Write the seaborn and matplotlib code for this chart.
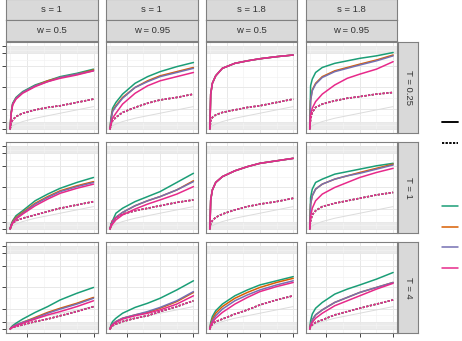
import numpy as np
import pandas as pd
import matplotlib
matplotlib.use("Agg")
import matplotlib.pyplot as plt
import seaborn as sns
from matplotlib.lines import Line2D

# facet levels
s_levels = ["1", "1", "1.8", "1.8"]
w_levels = ["0.5", "0.95", "0.5", "0.95"]
T_levels = ["0.25", "1", "4"]
methods = ["A", "B", "C", "D"]
palette = ["#1b9e77", "#d95f02", "#7570b3", "#e7298a"]

# shared x positions of the read-off points
x_grid = [0, 0.01, 0.03, 0.07, 0.15, 0.3, 0.45, 0.6, 0.8, 1.0]
x_breaks = [0.2, 0.6, 1.0]
x_minor = [0.0, 0.4, 0.8]
y_breaks = [0, 0.09, 0.245, 0.5, 0.755, 0.91, 1.0]
band_low = [0, 0.09]
band_high = [0.91, 1.0]
ref_y = [0, 0.02, 0.04, 0.06, 0.09, 0.13, 0.16, 0.19, 0.23, 0.27]

# solid curves (green, orange, purple, pink) and dotted curve, per panel
# T = 0.25
sol_1_1 = [[0, .19, .31, .38, .45, .53, .58, .63, .67, .72],
           [0, .18, .30, .37, .44, .52, .58, .62, .66, .71],
           [0, .18, .30, .37, .44, .52, .57, .62, .66, .70],
           [0, .17, .29, .36, .43, .51, .57, .61, .65, .70]]
dot_1_1 = [0, .06, .11, .15, .19, .23, .26, .28, .32, .36]
sol_1_2 = [[0, .13, .25, .32, .42, .55, .63, .69, .75, .80],
           [0, .11, .22, .28, .38, .50, .58, .64, .69, .74],
           [0, .10, .21, .27, .37, .50, .57, .63, .68, .73],
           [0, .06, .13, .19, .30, .43, .52, .58, .63, .68]]
dot_1_2 = [0, .05, .10, .14, .20, .26, .31, .35, .38, .42]
sol_1_3 = [[0, .42, .55, .64, .73, .79, .82, .845, .87, .89],
           [0, .42, .55, .64, .73, .79, .82, .845, .87, .89],
           [0, .42, .55, .64, .73, .79, .82, .845, .87, .89],
           [0, .42, .55, .64, .73, .79, .82, .845, .87, .89]]
dot_1_3 = [0, .10, .14, .17, .20, .23, .26, .28, .32, .36]
sol_1_4 = [[0, .52, .60, .68, .74, .79, .82, .85, .88, .92],
           [0, .35, .47, .55, .63, .70, .74, .78, .83, .89],
           [0, .34, .46, .54, .62, .69, .73, .77, .82, .88],
           [0, .17, .25, .33, .42, .53, .61, .66, .72, .81]]
dot_1_4 = [0, .12, .20, .26, .30, .34, .37, .39, .42, .44]
# T = 1
sol_2_1 = [[0, .05, .10, .16, .22, .34, .42, .49, .56, .62],
           [0, .04, .09, .14, .20, .31, .39, .46, .52, .57],
           [0, .04, .08, .13, .19, .30, .38, .45, .51, .56],
           [0, .03, .07, .12, .18, .28, .36, .43, .49, .54]]
dot_2_1 = [0, .04, .07, .10, .13, .17, .21, .25, .29, .33]
sol_2_2 = [[0, .06, .10, .19, .25, .33, .39, .45, .56, .67],
           [0, .04, .08, .14, .20, .28, .34, .39, .47, .58],
           [0, .04, .08, .14, .20, .28, .34, .39, .47, .57],
           [0, .03, .06, .11, .17, .24, .30, .35, .42, .51]]
dot_2_2 = [0, .05, .10, .14, .18, .22, .25, .28, .32, .35]
sol_2_3 = [[0, .35, .47, .56, .63, .70, .75, .79, .82, .85],
           [0, .35, .47, .56, .63, .70, .75, .79, .82, .85],
           [0, .35, .47, .56, .63, .70, .75, .79, .82, .85],
           [0, .35, .47, .56, .63, .70, .75, .79, .82, .85]]
dot_2_3 = [0, .07, .10, .14, .18, .23, .27, .30, .33, .37]
sol_2_4 = [[0, .38, .48, .56, .60, .66, .69, .72, .76, .79],
           [0, .30, .40, .48, .54, .60, .64, .68, .73, .78],
           [0, .30, .40, .48, .54, .60, .64, .67, .72, .77],
           [0, .15, .25, .34, .42, .50, .56, .62, .68, .73]]
dot_2_4 = [0, .10, .17, .22, .27, .31, .34, .37, .41, .44]
# T = 4
sol_3_1 = [[0, .02, .04, .07, .12, .20, .27, .35, .43, .50],
           [0, .01, .03, .05, .08, .14, .20, .25, .31, .38],
           [0, .01, .03, .05, .08, .13, .19, .24, .30, .37],
           [0, .01, .02, .04, .07, .12, .17, .21, .27, .34]]
dot_3_1 = [0, .01, .02, .03, .05, .09, .12, .16, .21, .27]
sol_3_2 = [[0, .05, .09, .13, .19, .26, .31, .37, .47, .58],
           [0, .03, .06, .09, .13, .17, .20, .25, .33, .44],
           [0, .03, .06, .09, .13, .17, .21, .26, .34, .45],
           [0, .03, .05, .08, .12, .16, .19, .23, .30, .40]]
dot_3_2 = [0, .02, .04, .06, .09, .13, .16, .21, .27, .34]
sol_3_3 = [[0, .08, .15, .22, .30, .40, .47, .53, .58, .63],
           [0, .06, .12, .19, .27, .37, .44, .50, .56, .61],
           [0, .05, .10, .16, .24, .34, .41, .47, .53, .58],
           [0, .04, .08, .13, .20, .30, .38, .45, .51, .56]]
dot_3_3 = [0, .03, .06, .09, .12, .18, .23, .29, .35, .40]
sol_3_4 = [[0, .10, .18, .25, .32, .42, .48, .53, .60, .68],
           [0, .06, .11, .17, .23, .32, .38, .44, .50, .56],
           [0, .06, .11, .17, .23, .32, .38, .44, .50, .56],
           [0, .04, .08, .13, .19, .28, .34, .40, .48, .55]]
dot_3_4 = [0, .03, .05, .08, .11, .17, .21, .25, .30, .35]

solid = [[sol_1_1, sol_1_2, sol_1_3, sol_1_4],
         [sol_2_1, sol_2_2, sol_2_3, sol_2_4],
         [sol_3_1, sol_3_2, sol_3_3, sol_3_4]]
dotted = [[dot_1_1, dot_1_2, dot_1_3, dot_1_4],
          [dot_2_1, dot_2_2, dot_2_3, dot_2_4],
          [dot_3_1, dot_3_2, dot_3_3, dot_3_4]]

W, H = 462, 341
sns.set_theme(style="white")
plt.rcParams['font.family'] = ['Liberation Sans', 'DejaVu Sans']
fig = plt.figure(figsize=(W / 100, H / 100), dpi=100)


def box(left, top, w, h):
    return [left / W, 1 - (top + h) / H, w / W, h / H]


lefts = [6, 105.9, 205.7, 305.6]
tops = [41.7, 141.7, 241.7]
pw, ph = 91.7, 91.5
border = "#808080"
strip_fill = "#d9d9d9"
txt = "#333333"


def strip(rect, label, rot=0):
    sa = fig.add_axes(rect)
    sa.set_facecolor(strip_fill)
    sa.set_xticks([])
    sa.set_yticks([])
    for sp in sa.spines.values():
        sp.set_color(border)
        sp.set_linewidth(0.8)
    sa.text(0.5, 0.5, label, ha="center", va="center", rotation=rot,
            fontsize=6.8, color=txt, transform=sa.transAxes)


y_minor = [(a + b) / 2 for a, b in zip(y_breaks[:-1], y_breaks[1:])]

for r in range(3):
    for c in range(4):
        ax = fig.add_axes(box(lefts[c], tops[r], pw, ph))
        rows = []
        for m, yv in zip(methods, solid[r][c]):
            for xv, v in zip(x_grid, yv):
                rows.append((xv, v, m, "solid"))
        for m in methods:
            for xv, v in zip(x_grid, dotted[r][c]):
                rows.append((xv, v, m, "dotted"))
        df = pd.DataFrame(rows, columns=["x", "y", "method", "kind"])

        ax.axhspan(*band_low, color="#e3e3e3", alpha=0.7, lw=0, zorder=0.5)
        ax.axhspan(*band_high, color="#e3e3e3", alpha=0.7, lw=0, zorder=0.5)
        ax.plot(x_grid, ref_y, color="#dcdcdc", lw=0.7, zorder=1)

        sns.lineplot(data=df, x="x", y="y", hue="method", style="kind",
                     hue_order=methods, style_order=["solid", "dotted"],
                     palette=palette, dashes={"solid": "", "dotted": (1.4, 1.0)},
                     estimator=None, sort=False, lw=1.1, legend=False, ax=ax)

        ax.set_xlim(-0.05, 1.05)
        ax.set_ylim(-0.05, 1.05)
        ax.set_xticks(x_breaks)
        ax.set_xticks(x_minor, minor=True)
        ax.set_yticks(y_breaks)
        ax.set_yticks(y_minor, minor=True)
        ax.grid(which="major", color="#e8e8e8", lw=0.7)
        ax.grid(which="minor", color="#f3f3f3", lw=0.5)
        ax.set_axisbelow(True)
        ax.set_xlabel("")
        ax.set_ylabel("")
        ax.tick_params(which="minor", length=0)
        ax.tick_params(which="major", length=2.6, width=0.7, color="#444444",
                       labelbottom=False, labelleft=False,
                       left=(c == 0), bottom=(r == 2))
        for sp in ax.spines.values():
            sp.set_color(border)
            sp.set_linewidth(0.8)

        if r == 0:
            strip(box(lefts[c], -1, pw, 21.3), f"s = {s_levels[c]}")
            strip(box(lefts[c], 20.3, pw, 20.4), f"w = {w_levels[c]}")
        if c == 3:
            strip(box(398.3, tops[r], 20, ph), f"T = {T_levels[r]}", rot=-90)

# legends: only the keys are inside the crop, so the labels are hidden
lt_handles = [Line2D([], [], color="black", lw=1.1),
              Line2D([], [], color="black", lw=1.1, ls=(0, (1.4, 1.0)))]
leg1 = fig.legend(lt_handles, ["a", "b"], loc="upper left",
                  bbox_to_anchor=(442 / W, 1 - 118 / H), frameon=False,
                  handlelength=1.45, handletextpad=0.8, borderpad=0,
                  borderaxespad=0, labelspacing=0.95, fontsize=8)
col_handles = [Line2D([], [], color=p, lw=1.1) for p in palette]
leg2 = fig.legend(col_handles, methods, loc="upper left",
                  bbox_to_anchor=(442 / W, 1 - 202 / H), frameon=False,
                  handlelength=1.45, handletextpad=0.8, borderpad=0,
                  borderaxespad=0, labelspacing=0.95, fontsize=8)
fig.add_artist(leg1)
for lg in (leg1, leg2):
    for t in lg.get_texts():
        t.set_visible(False)

fig.savefig("out.png", dpi=100)
